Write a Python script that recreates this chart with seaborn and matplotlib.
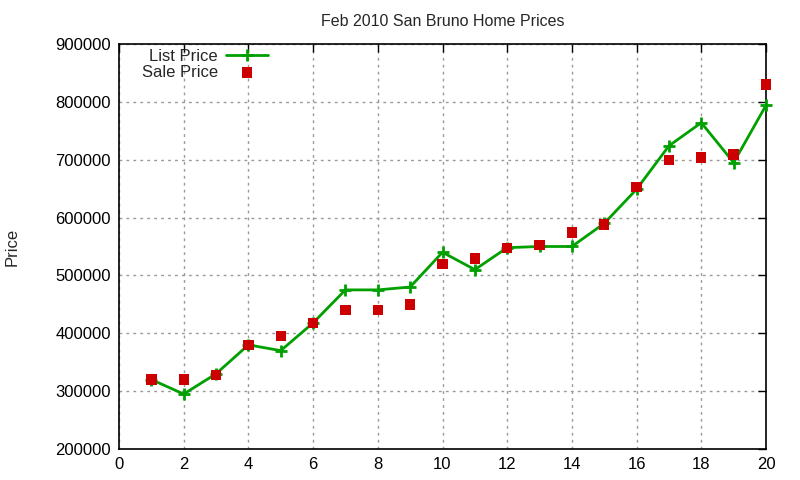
import numpy as np
import pandas as pd
import matplotlib
matplotlib.use("Agg")
import matplotlib.pyplot as plt
import seaborn as sns

# ── data ─────────────────────────────────────────────────────────────────────
homes = list(range(1, 21))
list_price = [320000, 295000, 330000, 380000, 370000, 418000, 475000, 475000,
              480000, 540000, 510000, 548000, 550000, 550000, 590000, 649000,
              724000, 764000, 695000, 794000]
sale_price = [320000, 320000, 328000, 380000, 395000, 418000, 440000, 440000,
              450000, 520000, 529000, 548000, 552000, 574000, 588000, 653000,
              700000, 704000, 709000, 830000]

df = pd.DataFrame({"home": homes, "list": list_price, "sale": sale_price})

# ── style ────────────────────────────────────────────────────────────────────
sns.set_theme(style="white")
plt.rcParams["font.family"] = ["Liberation Sans", "DejaVu Sans"]
plt.rcParams["font.size"] = 12

fig = plt.figure(figsize=(8, 4.8), dpi=100)
L, R, T, B = 119, 766, 44, 449
ax = fig.add_axes([L / 800, 1 - B / 480, (R - L) / 800, (B - T) / 480])

sns.lineplot(data=df, x="home", y="list", ax=ax, color="#00a000", lw=2,
             marker="+", markersize=9, markeredgewidth=2,
             markeredgecolor="#00a000", label="List Price", clip_on=False,
             zorder=3)
sns.scatterplot(data=df, x="home", y="sale", ax=ax, color="#cc0000",
                marker="s", s=55, edgecolor="none", label="Sale Price",
                zorder=4, clip_on=False)

ax.set_xlim(0, 20)
ax.set_ylim(200000, 900000)
ax.set_xticks(range(0, 21, 2))
ax.set_yticks(range(200000, 900001, 100000))
ax.grid(True, color="#999999", ls=(0, (2, 3)), lw=1)
ax.tick_params(direction="in", length=6, width=1, top=True, right=True,
               labelsize=12, colors="black", pad=6)
for s in ax.spines.values():
    s.set_color("black")
    s.set_linewidth(1.2)

ax.set_xlabel("")
ax.set_ylabel("Price", fontsize=12)
ax.yaxis.set_label_coords((20 - L) / (R - L), 0.5)
ax.set_title("Feb 2010 San Bruno Home Prices", fontsize=11.5, pad=13)

leg = ax.legend(loc="upper right",
                bbox_to_anchor=((268 - L) / (R - L), (B - 49) / (B - T)),
                frameon=False, markerfirst=False, handlelength=2.5,
                handletextpad=0.5, borderaxespad=0, borderpad=0,
                labelspacing=0.05, fontsize=12)
for t in leg.get_texts():
    t.set_ha("right")

fig.savefig("out.png", dpi=100)
